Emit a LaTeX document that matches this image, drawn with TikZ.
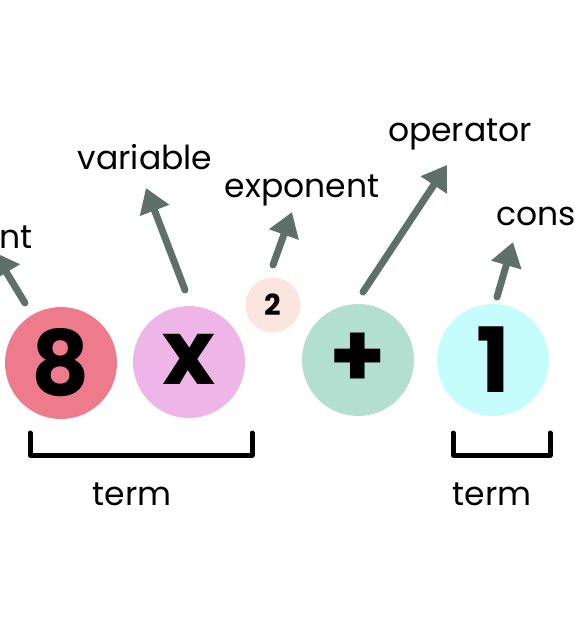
\documentclass[tikz,border=0pt]{standalone}
\usepackage{fontspec}
\setmainfont{Poppins}
\usetikzlibrary{arrows.meta}
\definecolor{cEight}{HTML}{EE7B8C}
\definecolor{cX}{HTML}{EDB5E8}
\definecolor{cTwo}{HTML}{FAE5DF}
\definecolor{cPlus}{HTML}{B3DFD1}
\definecolor{cOne}{HTML}{C4FDFB}
\definecolor{arrowc}{HTML}{5F6F69}
\tikzset{
  bigcirc/.style={circle, minimum size=112pt, inner sep=0pt, draw=none},
  bigtxt/.style={font=\fontsize{90}{90}\selectfont\bfseries},
  lbl/.style={font=\fontsize{33}{33}\selectfont, inner sep=0pt},
  pointer/.style={draw=arrowc, line width=7pt, line cap=round, -{Triangle[length=24pt,width=30pt]}},
  brace/.style={line width=5pt, line cap=round, line join=round}
}
\begin{document}
\begin{tikzpicture}[x=1pt,y=-1pt]
\useasboundingbox (0,0) rectangle (575,625);
\clip (0,0) rectangle (575,625);
% circles
\node[bigcirc, fill=cEight, bigtxt] (n8) at (61,363) {8};
\node[bigcirc, fill=cX, bigtxt] (nx) at (189,362) {\raisebox{6pt}{x}};
\node[circle, minimum size=55pt, inner sep=0pt, fill=cTwo, font=\fontsize{29}{29}\selectfont\bfseries] (n2) at (273,305) {2};
\node[bigcirc, fill=cPlus, bigtxt] (np) at (358,360) {+};
\node[bigcirc, fill=cOne, bigtxt] (n1) at (493,360) {1};
% labels
\node[lbl, anchor=east] (lcoef) at (33,236) {coefficient};
\node[lbl] (lvar) at (145,157) {variable};
\node[lbl] (lexp) at (302,190) {exponent};
\node[lbl] (lop) at (460,134) {operator};
\node[lbl, anchor=west] (lcon) at (496,214) {constant};
% arrow ends
\coordinate (t8) at (25,303);
\coordinate (h8) at (-6,252);
\coordinate (tx) at (185,290);
\coordinate (hx) at (146,188);
\coordinate (t2) at (273,265);
\coordinate (h2) at (292,212);
\coordinate (tp) at (363,292);
\coordinate (hp) at (447,165);
\coordinate (t1) at (497,297);
\coordinate (h1) at (513,242);
\draw[pointer] (t8) -- (h8);
\draw[pointer] (tx) -- (hx);
\draw[pointer] (t2) -- (h2);
\draw[pointer] (tp) -- (hp);
\draw[pointer] (t1) -- (h1);
% brackets
\draw[brace] (30,433) -- (30,455) -- (252,455) -- (252,433);
\draw[brace] (453,433) -- (453,455) -- (550,455) -- (550,433);
\node[lbl] (term1) at (132,494) {term};
\node[lbl] (term2) at (492,494) {term};
\end{tikzpicture}
\end{document}
